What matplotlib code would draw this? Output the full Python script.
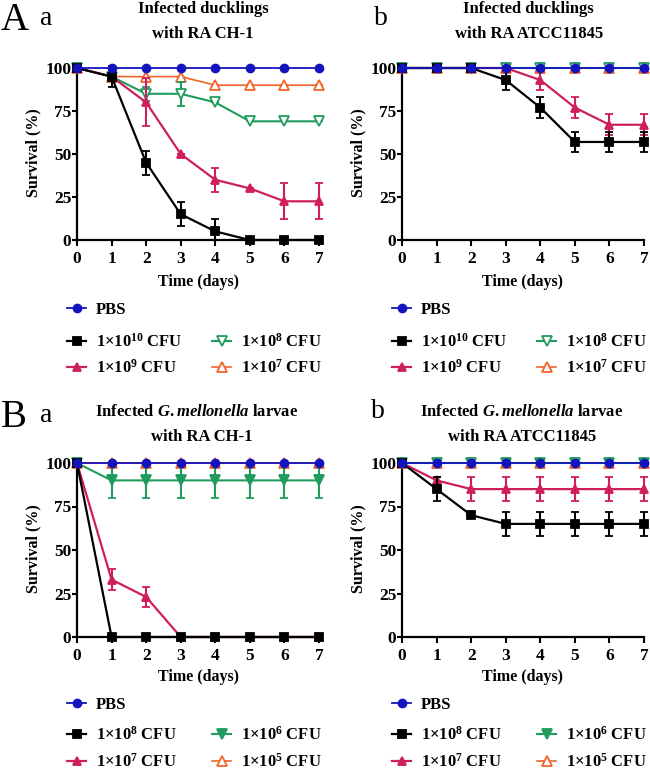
import numpy as np
import matplotlib
matplotlib.use("Agg")
import matplotlib.pyplot as plt

plt.rcParams['font.family'] = 'Liberation Serif'
plt.rcParams['font.weight'] = 'bold'
plt.rcParams['mathtext.fontset'] = 'custom'
plt.rcParams['mathtext.rm'] = 'Liberation Serif:bold'
plt.rcParams['mathtext.bf'] = 'Liberation Serif:bold'
plt.rcParams['mathtext.it'] = 'Liberation Serif:italic:bold'
plt.rcParams['mathtext.default'] = 'bf'

W, H = 650, 771

days = [0, 1, 2, 3, 4, 5, 6, 7]

# A a : ducklings, RA CH-1
pbs_Aa = [100, 100, 100, 100, 100, 100, 100, 100]
e10_Aa = [100, 95, 45, 15, 5, 0, 0, 0]
e10_Aa_err = [0, 6, 7, 7, 7, 0, 0, 0]
e9_Aa = [100, 95, 80, 50, 35, 30, 22.5, 22.5]
e9_Aa_err = [0, 0, 14, 0, 7, 0, 10.5, 10.5]
e8_Aa = [100, 95, 85, 85, 80, 69, 69, 69]
e8_Aa_err = [0, 0, 4, 7, 0, 0, 0, 0]
e7_Aa = [100, 95, 95, 95, 90, 90, 90, 90]
e7_Aa_err = [0, 0, 0, 0, 0, 0, 0, 0]

# A b : ducklings, RA ATCC11845
pbs_Ab = [100, 100, 100, 100, 100, 100, 100, 100]
e10_Ab = [100, 100, 100, 93, 77, 57, 57, 57]
e10_Ab_err = [0, 0, 0, 6, 6, 6, 6, 6]
e9_Ab = [100, 100, 100, 100, 93, 77, 67, 67]
e9_Ab_err = [0, 0, 0, 0, 6, 6, 6, 6]
e8_Ab = [100, 100, 100, 100, 100, 100, 100, 100]
e8_Ab_err = [0, 0, 0, 0, 0, 0, 0, 0]
e7_Ab = [100, 100, 100, 100, 100, 100, 100, 100]
e7_Ab_err = [0, 0, 0, 0, 0, 0, 0, 0]

# B a : G.mellonella, RA CH-1
pbs_Ba = [100, 100, 100, 100, 100, 100, 100, 100]
e8_Ba = [100, 0, 0, 0, 0, 0, 0, 0]
e8_Ba_err = [0, 0, 0, 0, 0, 0, 0, 0]
e7_Ba = [100, 33, 23, 0, 0, 0, 0, 0]
e7_Ba_err = [0, 6, 6, 0, 0, 0, 0, 0]
e6_Ba = [100, 90, 90, 90, 90, 90, 90, 90]
e6_Ba_err = [0, 10, 10, 10, 10, 10, 10, 10]
e5_Ba = [100, 100, 100, 100, 100, 100, 100, 100]
e5_Ba_err = [0, 0, 0, 0, 0, 0, 0, 0]

# B b : G.mellonella, RA ATCC11845
pbs_Bb = [100, 100, 100, 100, 100, 100, 100, 100]
e8_Bb = [100, 85, 70, 65, 65, 65, 65, 65]
e8_Bb_err = [0, 7, 0, 7, 7, 7, 7, 7]
e7_Bb = [100, 90, 85, 85, 85, 85, 85, 85]
e7_Bb_err = [0, 2, 7, 7, 7, 7, 7, 7]
e6_Bb = [100, 100, 100, 100, 100, 100, 100, 100]
e6_Bb_err = [0, 0, 0, 0, 0, 0, 0, 0]
e5_Bb = [100, 100, 100, 100, 100, 100, 100, 100]
e5_Bb_err = [0, 0, 0, 0, 0, 0, 0, 0]

BLUE = '#1414bf'
BLACK = '#000000'
RED = '#cf1e5e'
GREEN = '#1f9c5c'
ORANGE = '#f2632a'

labels_A = ['PBS', '1×10$^{10}$ CFU', '1×10$^{9}$ CFU', '1×10$^{8}$ CFU', '1×10$^{7}$ CFU']
labels_B = ['PBS', '1×10$^{8}$ CFU', '1×10$^{7}$ CFU', '1×10$^{6}$ CFU', '1×10$^{5}$ CFU']

fig = plt.figure(figsize=(W / 100, H / 100), dpi=100)


def rect(x0, x1, ytop, ybot):
    return [x0 / W, 1 - ybot / H, (x1 - x0) / W, (ybot - ytop) / H]


def series(ax, y, err, color, marker, mfc, ms, lw, z):
    y = np.array(y, dtype=float)
    err = np.array(err, dtype=float)
    lo = np.minimum(err, y)
    c = ax.errorbar(days, y, yerr=[lo, err], color=color, marker=marker,
                    mfc=mfc, mec=color, ms=ms, mew=1.3, lw=lw,
                    elinewidth=1.5, capsize=3.2, capthick=1.5,
                    clip_on=False, zorder=z)
    for art in c.lines[1] + c.lines[2]:
        art.set_clip_on(False)
    return c.lines[0]


def panel(pos, data, open_green, xlabel_y):
    ax = fig.add_axes(pos)
    pbs, s1, s2, s3, s4 = data
    gfc = 'white' if open_green else GREEN
    h4 = series(ax, s4[0], s4[1], ORANGE, '^', 'white', 6.5, 1.2, 3)
    h3 = series(ax, s3[0], s3[1], GREEN, 'v', gfc, 6.5, 1.5, 4)
    h2 = series(ax, s2[0], s2[1], RED, '^', RED, 6, 1.6, 5)
    h1 = series(ax, s1[0], s1[1], BLACK, 's', BLACK, 5.5, 1.6, 6)
    h0 = ax.plot(days, pbs, color=BLUE, marker='o', ms=6, lw=1.3,
                 clip_on=False, zorder=7)[0]
    ax.set_xlim(0, 7)
    ax.set_ylim(0, 100)
    ax.set_xticks(days)
    ax.set_yticks([0, 25, 50, 75, 100])
    for s in ['top', 'right']:
        ax.spines[s].set_visible(False)
    for s in ['left', 'bottom']:
        ax.spines[s].set_linewidth(1.6)
    ax.tick_params(axis='x', length=4, width=1.5, pad=4, labelsize=12.5)
    ax.tick_params(axis='y', length=3.5, width=1.5, pad=0.5, labelsize=12.5)
    ax.set_ylabel('Survival (%)', fontsize=11.5, fontweight='bold')
    ax.set_xlabel('Time (days)', fontsize=11.5, fontweight='bold')
    ax.yaxis.set_label_coords(-0.182, 0.51)
    ax.yaxis.label.set_va('center')
    ax.xaxis.set_label_coords(0.5, xlabel_y)
    ax.xaxis.label.set_va('center')
    return ax, [h0, h1, h2, h3, h4]


def legends(handles, labels, x0, x1, ys):
    spots = [(x0, ys[0]), (x0, ys[1]), (x0, ys[2]), (x1, ys[1]), (x1, ys[2])]
    for h, lab, (x, y) in zip(handles, labels, spots):
        fig.legend([h], [lab], loc='center left',
                   bbox_to_anchor=(x / W, 1 - y / H), frameon=False,
                   borderpad=0, borderaxespad=0, handlelength=1.15,
                   handletextpad=0.6, numpoints=1,
                   prop={'family': 'Liberation Serif', 'weight': 'bold', 'size': 12})


axAa, hA = panel(rect(77, 319, 68, 240),
                 [pbs_Aa, (e10_Aa, e10_Aa_err), (e9_Aa, e9_Aa_err),
                  (e8_Aa, e8_Aa_err), (e7_Aa, e7_Aa_err)], True, -0.244)
axAb, hAb = panel(rect(402, 644, 68, 240),
                  [pbs_Ab, (e10_Ab, e10_Ab_err), (e9_Ab, e9_Ab_err),
                   (e8_Ab, e8_Ab_err), (e7_Ab, e7_Ab_err)], True, -0.244)
axBa, hB = panel(rect(77, 319, 463, 637),
                 [pbs_Ba, (e8_Ba, e8_Ba_err), (e7_Ba, e7_Ba_err),
                  (e6_Ba, e6_Ba_err), (e5_Ba, e5_Ba_err)], False, -0.23)
axBb, hBb = panel(rect(402, 644, 463, 637),
                  [pbs_Bb, (e8_Bb, e8_Bb_err), (e7_Bb, e7_Bb_err),
                   (e6_Bb, e6_Bb_err), (e5_Bb, e5_Bb_err)], False, -0.23)

legends(hA, labels_A, 67, 212, [310, 342, 368])
legends(hAb, labels_A, 392, 537, [310, 342, 368])
legends(hB, labels_B, 67, 212, [705, 735, 762])
legends(hBb, labels_B, 392, 537, [705, 735, 762])


# titles
def ftext(x, y, s, **kw):
    fig.text(x / W, 1 - y / H, s, **kw)


tkw = dict(ha='center', va='center', fontsize=12, fontweight='bold')
ftext(203, 9, 'Infected ducklings', **tkw)
ftext(203, 34, 'with RA CH-1', **tkw)
ftext(528, 9, 'Infected ducklings', **tkw)
ftext(529, 34, 'with RA ATCC11845', **tkw)
ftext(197, 412, r'Infected $\mathit{G.mellonella}$ larvae', **tkw)
ftext(202, 437, 'with RA CH-1', **tkw)
ftext(522, 412, r'Infected $\mathit{G.mellonella}$ larvae', **tkw)
ftext(522, 437, 'with RA ATCC11845', **tkw)

lkw = dict(ha='left', va='baseline', fontweight='normal')
ftext(1, 30, 'A', fontsize=28, **lkw)
ftext(40, 25, 'a', fontsize=20, **lkw)
ftext(374, 25, 'b', fontsize=20, **lkw)
ftext(1, 427, 'B', fontsize=28, **lkw)
ftext(40, 422, 'a', fontsize=20, **lkw)
ftext(371, 418, 'b', fontsize=20, **lkw)

fig.savefig('out.png', dpi=100)
